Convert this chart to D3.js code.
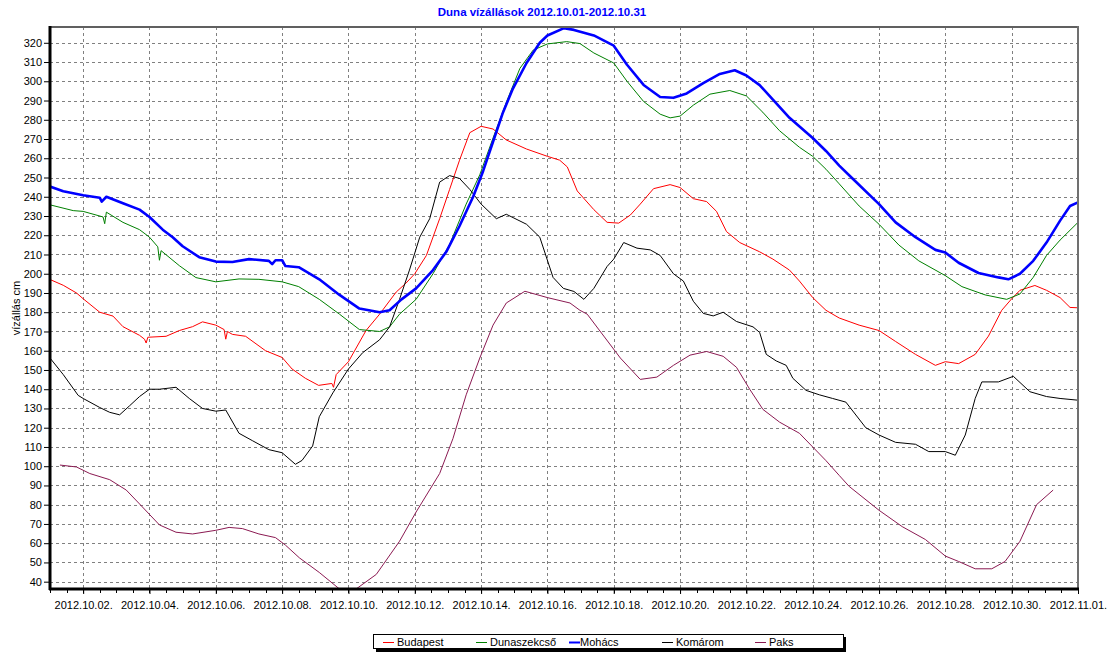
<!DOCTYPE html>
<html>
<head>
<meta charset="utf-8">
<script src="https://cdn.jsdelivr.net/npm/d3@7"></script>
<style>
body{margin:0;background:#fff;}
text{font-family:"Liberation Sans",Arial,sans-serif;}
</style>
</head>
<body>
<svg id="chart"></svg>
<script>
// station names, in legend order
var stations = ["Budapest","Dunaszekcső","Mohács","Komárom","Paks"]
var stationColors = ["#ff0000","#008000","#0000ff","#000000","#8b1a52"]

// [days after 2012.10.01 00:00, water level cm]
var budapest = [[0,197],[0.4,194],[0.8,190],[1,187],[1.5,180],[1.9,178],[2.2,172.5],[2.7,168],[2.85,166],[2.9,164],[2.95,167],[3.5,167.5],[3.9,170.5],[4.3,172.5],[4.6,175],[5,173.3],[5.25,171],[5.3,166],[5.35,170],[5.5,168.5],[5.9,167.5],[6.5,160],[7,156.5],[7.3,150.5],[7.7,145.7],[8.1,142],[8.5,143],[8.55,141],[8.63,147.6],[9,154.3],[9.53,170.5],[9.94,179],[10.44,190.5],[10.74,195.2],[11,200],[11.35,209.5],[11.75,228.6],[12.05,243.8],[12.35,259],[12.66,273.3],[13,276.6],[13.36,275.2],[13.76,269.5],[14.37,264.8],[15,261],[15.37,259],[15.6,255.5],[15.9,243],[16.4,233.3],[16.8,226.7],[17.15,226.3],[17.5,230.5],[17.8,236.2],[18.2,244.2],[18.7,246.3],[19,244.8],[19.4,239],[19.8,237.5],[20.1,232.4],[20.4,221.9],[20.8,216.2],[21.4,211.4],[21.8,207.6],[22.3,201.9],[22.6,196.2],[23,187.6],[23.4,181],[23.8,177],[24.4,173.3],[25,170.5],[25.5,164.8],[26.1,158.1],[26.7,152.4],[27,154.3],[27.4,153.3],[27.9,158.1],[28.3,167.6],[28.7,181],[29,187],[29.25,191.4],[29.7,193.9],[30.05,191.4],[30.46,187.6],[30.76,182.5],[31,182.3]]
var dunaszekcso = [[0,235.8],[0.7,232.8],[1,232.4],[1.6,229.5],[1.65,226],[1.7,232],[2.2,226.7],[2.7,222.9],[3,219],[3.25,214],[3.3,207],[3.35,212],[3.9,204.2],[4.4,198],[5,195.8],[5.7,197.3],[6.3,197.1],[7,195.8],[7.5,193.3],[8.12,186.7],[8.73,179],[9.33,171],[9.94,170],[10.24,172.4],[10.54,179],[11.04,186.7],[11.55,200],[12.05,215.2],[12.55,236.2],[12.96,251.4],[13.36,270.5],[13.77,289.5],[14.17,306.7],[14.57,316.2],[15,319.4],[15.58,320.6],[15.98,319.6],[16.4,314.7],[17,309.5],[17.4,300],[17.9,289.5],[18.4,282.9],[18.7,281],[19,281.9],[19.4,287.6],[19.9,293.3],[20.5,295.2],[21,292.4],[21.5,283.8],[22,274.3],[22.6,265.7],[23,261],[23.4,254.3],[23.8,246.7],[24.4,235.2],[25,225.7],[25.6,214.9],[26.2,206.7],[27,199],[27.5,193.3],[28.2,189],[28.85,186.7],[29.25,189.5],[29.65,198.1],[30.05,209.5],[30.46,217.5],[31,226.7]]
var mohacs = [[0,245.3],[0.4,242.9],[1,240.8],[1.5,239.5],[1.56,237.5],[1.7,240],[2.2,236.6],[2.7,233.3],[3,229.5],[3.4,222.9],[3.7,219],[4,214.3],[4.5,208.6],[5,206.3],[5.5,206.1],[6,207.6],[6.6,206.7],[6.7,205],[6.8,207],[7,207],[7.1,204],[7.5,203.4],[8.12,197.1],[8.73,189],[9.33,181.9],[9.94,180],[10.24,181],[10.6,186.7],[11.04,192.4],[11.55,201.9],[11.95,211.4],[12.35,224.8],[12.76,240],[13.06,253.3],[13.36,268.6],[13.66,283.8],[13.96,296.2],[14.37,309.5],[14.77,320],[15,323.8],[15.5,327.6],[15.8,326.7],[16.4,323.8],[17,318.5],[17.4,308.6],[17.9,298.1],[18.4,291.8],[18.8,291.4],[19.2,293.7],[19.7,299],[20.2,303.8],[20.65,305.7],[21,303],[21.4,298],[21.8,290.5],[22.3,281],[23,270.5],[23.4,263.8],[23.8,256.2],[24.2,249.5],[25,236.2],[25.5,226.7],[26.1,219],[26.7,212.4],[27,211],[27.4,205.7],[28,200.4],[28.6,198.1],[28.9,197.1],[29.25,200],[29.65,206.7],[30.05,216.2],[30.46,227.6],[30.76,235.2],[31,237.1]]
var komarom = [[0,156.2],[0.4,147.6],[0.85,136.8],[1,135.2],[1.5,130.5],[1.8,128],[2.1,126.7],[2.4,131.4],[2.7,136.2],[3,140],[3.3,140],[3.8,141],[4.2,135.2],[4.6,130],[5,128.6],[5.3,129.2],[5.7,117.1],[6.1,113.3],[6.6,108.6],[7,107],[7.4,101],[7.6,103],[7.92,110.5],[8.12,125.7],[8.53,138.1],[9,150.5],[9.43,159],[9.94,165.7],[10.24,172.4],[10.54,186.7],[10.84,201.9],[11.15,219],[11.45,228.6],[11.75,247.6],[12.05,251],[12.35,249.5],[12.66,243.8],[13,236.2],[13.46,228.6],[13.76,230.9],[14.37,225.7],[14.77,219],[15.17,198.1],[15.48,192.4],[15.8,190.8],[16.1,186.7],[16.4,192.4],[16.8,203.8],[17,207.6],[17.3,216.2],[17.7,213.3],[18.1,212.4],[18.4,209.5],[18.8,200],[19.1,196.2],[19.4,185.7],[19.7,179.4],[20,178.1],[20.3,180],[20.7,175.2],[21.2,172.4],[21.4,169.5],[21.6,158.1],[21.9,154.7],[22.2,152.4],[22.4,145.7],[22.8,139.4],[23.2,137.1],[23.6,135.2],[24,133.3],[24.6,120],[25,116.2],[25.5,112.4],[26.1,111.4],[26.5,107.6],[27,107.6],[27.3,105.7],[27.6,116.2],[27.9,135.2],[28.1,143.8],[28.6,143.8],[29.05,146.7],[29.55,138.7],[30.05,136.2],[30.46,135.2],[31,134.3]]
var paks = [[0.3,100.6],[0.8,99.6],[1.2,96.2],[1.8,93],[2.3,87.6],[2.7,80.4],[3.3,69.5],[3.8,65.7],[4.3,64.8],[5,66.7],[5.4,68.2],[5.8,67.6],[6.3,64.8],[6.8,62.9],[7.1,59],[7.52,52.4],[8.12,44.8],[8.73,36.2],[9.23,36.2],[9.84,43.8],[10.54,61],[11.04,76.2],[11.75,96.2],[12.15,114.3],[12.55,137.1],[12.96,156.2],[13.36,173.3],[13.76,184.8],[14.32,190.9],[15,187.6],[15.68,184.8],[15.98,181],[16.2,179],[16.7,167.6],[17.2,156.2],[17.8,145.1],[18.3,146.3],[18.8,152.4],[19.3,157.7],[19.8,159.6],[20.3,157.1],[20.7,151.4],[21.1,140],[21.5,129.5],[22,122.9],[22.6,117.1],[23,110],[23.4,102.9],[23.8,95.2],[24.1,89.5],[25,77.1],[25.7,68.6],[26.4,61.9],[27,53.3],[27.4,50.5],[27.9,46.7],[28.4,46.7],[28.8,50.5],[29.25,61],[29.75,80],[30.25,87.6]]

var yTicks = d3.range(40,321,10)
var title = "Duna vízállások 2012.10.01-2012.10.31"
var yLabel = "vízállás cm"

var startDate = Date.UTC(2012,9,1)
var toDate = function(day)
{
    return new Date(startDate+day*864e5)
}

var drawChart = function()
{
    var screen = {width:1108,height:653}
    var plot = {left:50,right:1078,top:27,bottom:589}

    var svg = d3.select("#chart")
        .attr("width",screen.width)
        .attr("height",screen.height)

    var xScale = d3.scaleUtc()
        .domain([toDate(0),toDate(31)])
        .range([plot.left,plot.right])
    var yScale = d3.scaleLinear()
        .domain([36.2,328.2])
        .range([plot.bottom,plot.top])

    // title
    svg.append("text")
        .text(title)
        .attr("x",542)
        .attr("y",16)
        .attr("text-anchor","middle")
        .attr("font-size",11.5)
        .attr("font-weight","bold")
        .attr("fill","#0000ff")

    // grid
    var majorDays = d3.range(1,32,2).map(toDate)
    var grid = svg.append("g")
    grid.selectAll(".hgrid")
        .data(yTicks)
        .enter()
        .append("line")
        .attr("x1",plot.left)
        .attr("x2",plot.right)
        .attr("y1",function(v){return Math.round(yScale(v))+0.5})
        .attr("y2",function(v){return Math.round(yScale(v))+0.5})
    grid.selectAll(".vgrid")
        .data(majorDays.slice(0,-1))
        .enter()
        .append("line")
        .attr("x1",function(d){return Math.round(xScale(d))+0.5})
        .attr("x2",function(d){return Math.round(xScale(d))+0.5})
        .attr("y1",plot.top)
        .attr("y2",plot.bottom)
    grid.selectAll("line")
        .attr("stroke","#808080")
        .attr("stroke-width",1)
        .attr("stroke-dasharray","3,3")

    // series
    svg.append("clipPath")
        .attr("id","clip")
        .append("rect")
        .attr("x",plot.left)
        .attr("y",plot.top)
        .attr("width",plot.right-plot.left)
        .attr("height",plot.bottom-plot.top)

    var line = d3.line()
        .x(function(p){return xScale(toDate(p[0]))})
        .y(function(p){return yScale(p[1])})

    var series = [budapest,dunaszekcso,komarom,paks,mohacs]
    var seriesIndex = [0,1,3,4,2]
    var lines = svg.append("g").attr("clip-path","url(#clip)")
    series.forEach(function(s,i)
    {
        var k = seriesIndex[i]
        lines.append("path")
            .datum(s)
            .attr("d",line)
            .attr("fill","none")
            .attr("stroke",stationColors[k])
            .attr("stroke-width",k==2?2.6:1)
            .attr("stroke-linejoin","round")
    })

    // frame
    svg.append("line")
        .attr("x1",plot.left).attr("x2",plot.right)
        .attr("y1",plot.top).attr("y2",plot.top)
        .attr("stroke","#606060").attr("stroke-width",2)
    svg.append("line")
        .attr("x1",plot.right).attr("x2",plot.right)
        .attr("y1",plot.top-1).attr("y2",plot.bottom)
        .attr("stroke","#707070").attr("stroke-width",2)

    // y axis
    var yAxis = d3.axisLeft(yScale)
        .tickValues(yTicks)
        .tickSize(5)
        .tickPadding(2)
    var yg = svg.append("g")
        .attr("transform","translate("+(plot.left-1)+",0)")
        .call(yAxis)
    yg.select(".domain").remove()
    yg.selectAll("text").attr("font-size",11).attr("font-family","Liberation Sans, Arial, sans-serif").attr("fill","#000")

    // x axis: major labels every 2 days, small ticks every 12 hours
    var xAxis = d3.axisBottom(xScale)
        .tickValues(majorDays)
        .tickSize(4)
        .tickPadding(7)
        .tickFormat(d3.utcFormat("%Y.%m.%d."))
    var xg = svg.append("g")
        .attr("transform","translate(0,"+(plot.bottom+1)+")")
        .call(xAxis)
    xg.select(".domain").remove()
    xg.selectAll("text").attr("font-size",11).attr("font-family","Liberation Sans, Arial, sans-serif").attr("fill","#000")

    svg.append("g")
        .selectAll("line")
        .data(d3.utcHour.every(12).range(toDate(0),toDate(31.01)))
        .enter()
        .append("line")
        .attr("x1",function(d){return Math.round(xScale(d))+0.5})
        .attr("x2",function(d){return Math.round(xScale(d))+0.5})
        .attr("y1",plot.bottom)
        .attr("y2",plot.bottom+4)
        .attr("stroke","#000")

    svg.append("line")
        .attr("x1",plot.left).attr("x2",plot.left)
        .attr("y1",plot.top-1).attr("y2",plot.bottom+1)
        .attr("stroke","#000").attr("stroke-width",3)
    svg.append("line")
        .attr("x1",plot.left-1).attr("x2",plot.right+1)
        .attr("y1",plot.bottom).attr("y2",plot.bottom)
        .attr("stroke","#000").attr("stroke-width",3)

    // y label
    svg.append("text")
        .text(yLabel)
        .attr("transform","translate(20,308) rotate(-90)")
        .attr("text-anchor","middle")
        .attr("font-size",11)
        .attr("fill","#000")

    // legend
    var legend = svg.append("g")
        .attr("transform","translate(373,634)")
    legend.append("rect")
        .attr("x",3).attr("y",3)
        .attr("width",470).attr("height",15)
        .attr("fill","#000")
    legend.append("rect")
        .attr("x",0.5).attr("y",0.5)
        .attr("width",470).attr("height",14)
        .attr("fill","#fff")
        .attr("stroke","#000")
    var entries = legend.selectAll(".entry")
        .data(stations)
        .enter()
        .append("g")
        .attr("transform",function(d,i){return "translate("+(10+i*93)+",0)"})
    entries.append("line")
        .attr("x1",0).attr("x2",11)
        .attr("y1",8.5).attr("y2",8.5)
        .attr("stroke",function(d,i){return stationColors[i]})
        .attr("stroke-width",function(d,i){return i==2?2:1})
    entries.append("text")
        .text(function(d){return d})
        .attr("x",function(d,i){return i==2?11:14})
        .attr("y",12)
        .attr("font-size",11)
        .attr("fill","#000")
}

drawChart()
</script>
</body>
</html>
